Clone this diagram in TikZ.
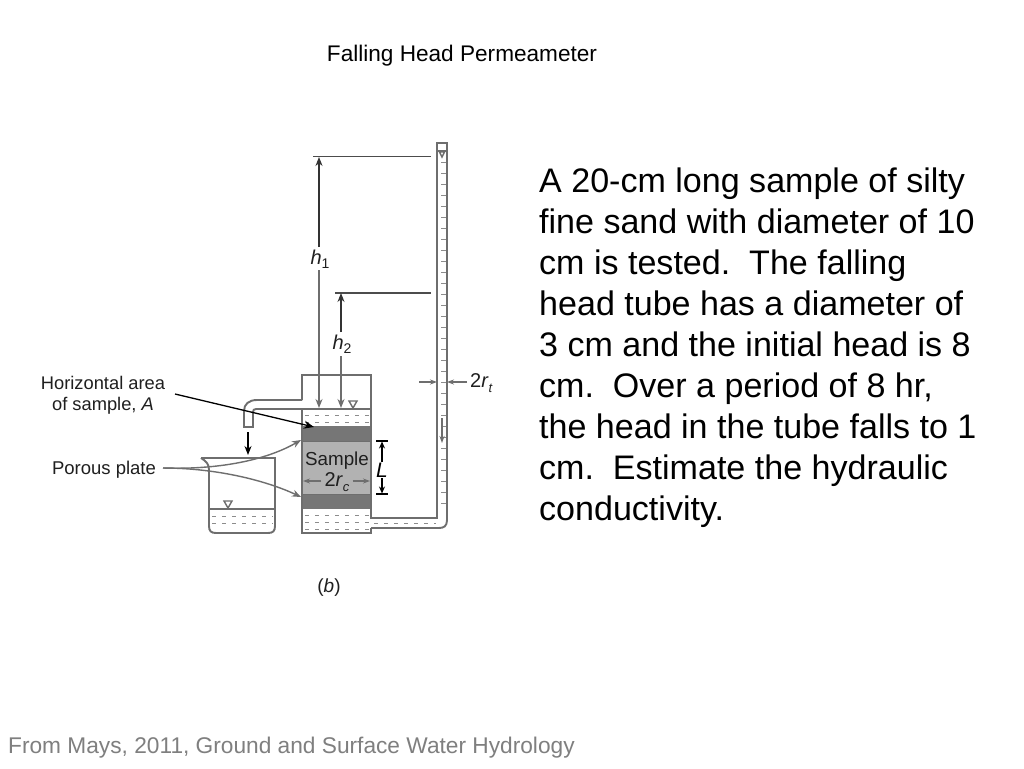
\documentclass[tikz,border=0pt]{standalone}
\usepackage{fontspec}
\setmainfont{Liberation Sans}
\usetikzlibrary{arrows.meta}
\definecolor{ln}{HTML}{6E6E6E}
\definecolor{wash}{HTML}{8C8C8C}
\definecolor{plate}{HTML}{767676}
\definecolor{samp}{HTML}{B2B2B2}
\definecolor{foot}{HTML}{7F7F7F}
\newcommand{\fsz}[1]{\fontsize{#1}{#1}\selectfont}
\tikzset{
 wall/.style={draw=ln,line width=1.9pt},
 thin wall/.style={draw=ln,line width=1.5pt},
 dim/.style={draw=ln,line width=1.4pt,-{Stealth[length=9pt,width=7pt]}},
 dimk/.style={draw=black!80,line width=1.3pt,-{Stealth[length=9pt,width=7pt]}},
 small dim/.style={draw=ln,line width=1.1pt,-{Stealth[length=7pt,width=5pt]}},
 extline/.style={draw=black!70,line width=1.3pt},
 wdash/.style={draw=wash,line width=1pt,dash pattern=on 4pt off 6pt},
 tick/.style={draw=wash,line width=1pt},
 lab/.style={inner sep=0pt,font=\fsz{18.5},text=black!88},
 tri/.style={draw=ln,line width=1.4pt,fill=white},
}
\begin{document}
\begin{tikzpicture}[x=1pt,y=-1pt]
\useasboundingbox[fill=white] (0,0) rectangle (1024,768);

% titles and body text
\node[inner sep=0pt,font=\fsz{22.6}] (title) at (462,56) {Falling Head Permeameter};
\node[inner sep=0pt,anchor=north west,align=left,font=\fontsize{34.05}{40.9}\selectfont] (body) at (539,168)
 {A 20-cm long sample of silty\\fine sand with diameter of 10\\cm is tested.\ \ The falling\\head tube has a diameter of\\3 cm and the initial head is 8\\cm.\ \ Over a period of 8 hr,\\the head in the tube falls to 1\\cm.\ \ Estimate the hydraulic\\conductivity.};
\node[inner sep=0pt,anchor=west,font=\fsz{22.7},text=foot] (footer) at (8,748) {From Mays, 2011, Ground and Surface Water Hydrology};

% sample and plates
\fill[plate] (302,426) rectangle (371,441);
\fill[samp] (302,441) rectangle (371,494);
\fill[plate] (302,494) rectangle (371,509);
\draw[ln,line width=0.8pt] (302,441) -- (371,441) (302,494) -- (371,494);

% water dashes in the tank, beaker and pipe
\foreach \y in {415,422} \draw[wdash] (305,\y) -- (370,\y);
\foreach \y in {515,522,529} \draw[wdash] (305,\y) -- (370,\y);
\foreach \y in {516,523} \draw[wdash] (212,\y) -- (273,\y);
\draw[wdash] (374,523) -- (436,523);

% permeameter tank and outlet pipe
\draw[wall] (302,400) -- (302,375) -- (371,375) -- (371,518) -- (437,518) -- (437,143) -- (447,143) -- (447,520) .. controls (447,526) and (444,528) .. (439,528) -- (371,528);
\draw[wall] (302,409) -- (302,533) -- (371,533) -- (371,528);
\draw[thin wall] (302,409) -- (371,409);
\draw[wall] (302,400) -- (257,400) .. controls (249,400) and (244,404) .. (244,411) -- (244,427) -- (253,427) -- (253,412) .. controls (253,410) and (254,409) .. (256,409) -- (302,409);

% beaker
\draw[wall] (201,458) -- (275,458) -- (275,526) .. controls (275,531) and (273,533) .. (268,533) -- (216,533) .. controls (211,533) and (209,531) .. (209,526) -- (209,470) .. controls (209,464) and (206,461) .. (201,458);
\draw[thin wall] (209,509) -- (275,509);

% tube graduations and water surface
\draw[thin wall] (437,151) -- (447,151);
\foreach \y in {162,173,...,510} \draw[tick] (441,\y) -- (446,\y);
\draw[tri] (439.5,152) -- (444.5,152) -- (442,157) -- cycle;
\draw[small dim] (442,418) -- (442,443);

% free surface triangles
\draw[tri] (349,401) -- (357,401) -- (353,408) -- cycle;
\draw[tri] (224,501) -- (232,501) -- (228,508) -- cycle;

% head dimensions
\coordinate (h1top) at (319,157);
\coordinate (h2top) at (341,293);
\coordinate (h1bot) at (319,408);
\coordinate (h2bot) at (341,408);
\node[lab,font=\fsz{20}] (h1) at (320,259) {\textit{h}\raisebox{-0.35ex}{\fsz{14}1}};
\node[lab,font=\fsz{20}] (h2) at (342,344) {\textit{h}\raisebox{-0.35ex}{\fsz{14}2}};
\draw[extline] (313,156.5) -- (431,156.5);
\draw[extline] (335,293) -- (431,293);
\draw[dimk] (h1) ++(-1,-12) -- (h1top);
\draw[dimk] (h2) ++(-1,-12) -- (h2top);
\draw[dim] (h1) ++(-1,11) -- (h1bot);
\draw[dim] (h2) ++(-1,12) -- (h2bot);

% tube diameter
\node[lab,anchor=west,font=\fsz{20}] (rt) at (470,383) {2\textit{r}\raisebox{-0.5ex}{\fsz{13}\textit{t}}};
\coordinate (rtl) at (437,382);
\coordinate (rtr) at (447,382);
\coordinate (rtla) at (419,382);
\draw[small dim] (rtla) -- (rtl);
\draw[small dim] (rtr) ++(20,0) -- (rtr);

% sample labels and dimensions
\node[lab,font=\fsz{18.8}] (sample) at (337,460.5) {Sample};
\node[lab,font=\fsz{20}] (rc) at (337,482) {2\textit{r}\raisebox{-0.5ex}{\fsz{13}\textit{c}}};
\coordinate (rcl) at (303,481);
\coordinate (rcr) at (370,481);
\draw[small dim] (rc.west) ++(-3,-1) -- (rcl);
\draw[small dim] (rc.east) ++(3,-1) -- (rcr);
\draw[draw=black,line width=1.2pt] (376,441) -- (388,441) (376,494) -- (388,494);
\node[lab,font=\fsz{21}\itshape,text=black] (L) at (382,470) {L};
\coordinate (Lt) at (382,441.5);
\coordinate (Lb) at (382,493.5);
\draw[draw=black,line width=1.1pt,-{Stealth[length=7pt,width=6pt]}] (L.north) ++(0,-1) -- (Lt);
\draw[draw=black,line width=1.1pt,-{Stealth[length=7pt,width=6pt]}] (L.south) ++(0,1) -- (Lb);

% outflow arrow
\coordinate (dripa) at (248,432);
\coordinate (dripb) at (248,455);
\draw[draw=black,line width=1.4pt,-{Stealth[length=9pt,width=7pt]}] (dripa) -- (dripb);

% left labels and leaders
\node[lab,align=center,font=\fontsize{18.3}{20.5}\selectfont] (area) at (103,395.5) {Horizontal area\\of sample, \textit{A}};
\node[lab] (porous) at (104,469.5) {Porous plate};
\coordinate (areaend) at (314,427);
\coordinate (pl1) at (301,440);
\coordinate (pl2) at (301,497);
\coordinate (plfrom) at (163,468);
\draw[draw=black,line width=1.3pt,-{Stealth[length=10pt,width=8pt]}] (175,394) -- (areaend);
\draw[dim] (plfrom) .. controls (225,470) and (270,458) .. (pl1);
\draw[dim] (plfrom) .. controls (215,468) and (265,480) .. (pl2);

\node[lab,font=\fsz{19}] (b) at (329,588) {(\textit{b})};
\end{tikzpicture}
\end{document}
